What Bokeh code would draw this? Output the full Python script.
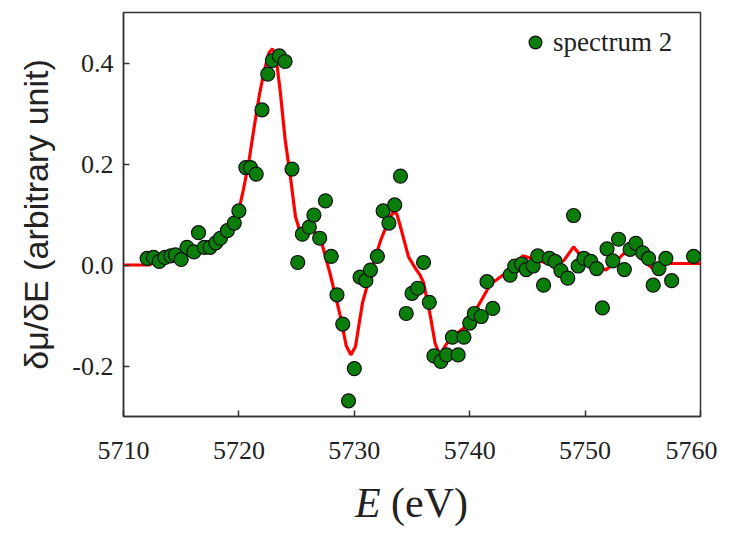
from bokeh.plotting import figure
from bokeh.layouts import column
from bokeh.models import Range1d, Legend, LegendItem, FixedTicker, PrintfTickFormatter, Div
from bokeh.embed import file_html
from bokeh.resources import INLINE

# measured spectrum (points)
energy_pts = [5712.05, 5712.6, 5713.1, 5713.6, 5714.1, 5714.5, 5715.0, 5715.5, 5716.1, 5716.5,
              5717.0, 5717.5, 5718.0, 5718.4, 5719.0, 5719.6, 5720.0, 5720.6, 5721.0, 5721.5,
              5722.0, 5722.5, 5722.9, 5723.5, 5724.0, 5724.6, 5725.1, 5725.5, 5726.1, 5726.5,
              5727.0, 5727.5, 5728.0, 5728.5, 5729.0, 5729.5, 5730.0, 5730.5, 5731.0, 5731.4,
              5732.0, 5732.5, 5733.0, 5733.5, 5734.0, 5734.5, 5735.0, 5735.5, 5736.0, 5736.5,
              5736.9, 5737.5, 5738.0, 5738.5, 5739.0, 5739.5, 5740.0, 5740.4, 5741.0, 5741.5,
              5742.0, 5743.5, 5743.9, 5744.5, 5744.9, 5745.5, 5745.9, 5746.4, 5746.9, 5747.4,
              5747.9, 5748.5, 5749.0, 5749.4, 5749.9, 5750.5, 5751.0, 5751.5, 5751.9, 5752.4,
              5752.9, 5753.4, 5753.9, 5754.4, 5755.0, 5755.5, 5755.9, 5756.4, 5757.0, 5757.5,
              5759.4]
dmu_pts = [0.013, 0.015, 0.007, 0.015, 0.018, 0.020, 0.011, 0.035, 0.026, 0.064,
           0.035, 0.035, 0.044, 0.053, 0.068, 0.083, 0.107, 0.193, 0.193, 0.180,
           0.307, 0.378, 0.405, 0.414, 0.403, 0.190, 0.005, 0.061, 0.075, 0.099,
           0.053, 0.127, 0.017, -0.059, -0.117, -0.269, -0.205, -0.024, -0.031, -0.010,
           0.017, 0.107, 0.083, 0.119, 0.176, -0.096, -0.056, -0.046, 0.005, -0.074,
           -0.180, -0.191, -0.178, -0.143, -0.178, -0.143, -0.115, -0.096, -0.102, -0.033,
           -0.086, -0.020, -0.002, 0.002, -0.009, -0.002, 0.018, -0.040, 0.013, 0.007,
           -0.011, -0.026, 0.098, -0.002, 0.013, 0.007, -0.007, -0.085, 0.032, 0.008,
           0.051, -0.009, 0.031, 0.043, 0.024, 0.013, -0.040, -0.007, 0.013, -0.031,
           0.017]

# fitted curve (red line)
energy_fit = [5710.0, 5712.3, 5712.6, 5713.0, 5714.0, 5715.0, 5716.1, 5717.2, 5718.4, 5719.2,
              5719.8, 5720.4, 5720.9, 5721.3, 5721.8, 5722.2, 5722.6, 5722.9, 5723.2, 5723.6,
              5724.0, 5724.5, 5724.9, 5725.3, 5725.6, 5726.2, 5726.6, 5727.1, 5727.9, 5728.8,
              5729.3, 5729.7, 5730.1, 5730.7, 5731.4, 5732.3, 5733.0, 5733.4, 5733.7, 5734.0,
              5734.7, 5735.3, 5735.7, 5736.0, 5736.6, 5737.0, 5737.4, 5738.3, 5739.5, 5740.6,
              5741.8, 5743.3, 5744.6, 5746.0, 5747.4, 5748.2, 5749.0, 5749.9, 5750.8, 5751.8,
              5752.8, 5753.9, 5755.1, 5756.1, 5757.1, 5760.0]
dmu_fit = [0.0, 0.0, 0.012, 0.008, 0.012, 0.016, 0.025, 0.034, 0.050, 0.065,
           0.090, 0.150, 0.210, 0.270, 0.340, 0.385, 0.420, 0.428, 0.415, 0.340,
           0.250, 0.168, 0.096, 0.066, 0.062, 0.073, 0.065, 0.050, -0.017, -0.102,
           -0.160, -0.178, -0.162, -0.076, -0.017, 0.050, 0.089, 0.106, 0.100, 0.076,
           0.016, -0.007, -0.020, -0.035, -0.102, -0.155, -0.178, -0.145, -0.125, -0.086,
           -0.038, -0.013, 0.018, 0.009, -0.003, 0.010, 0.036, 0.010, 0.000, -0.010,
           0.010, 0.035, 0.007, -0.011, 0.003, 0.003]

x_ticks = [5710, 5720, 5730, 5740, 5750, 5760]
y_ticks = [-0.2, 0.0, 0.2, 0.4]
series_label = "spectrum 2"

p = figure(width=717, height=476, output_backend="svg", toolbar_location=None,
           x_range=Range1d(5710, 5760), y_range=Range1d(-0.3, 0.5),
           min_border_left=123, min_border_right=17, min_border_top=12, min_border_bottom=60)
p.xgrid.visible = False
p.ygrid.visible = False
p.outline_line_color = "#333333"
p.outline_line_width = 1.5
p.background_fill_color = "white"

for ax in (p.xaxis[0], p.yaxis[0]):
    ax.axis_line_color = "#333333"
    ax.axis_line_width = 1.5
    ax.major_tick_in = 6
    ax.major_tick_out = 0
    ax.major_tick_line_color = "#333333"
    ax.major_tick_line_width = 1.5
    ax.minor_tick_line_color = None
    ax.major_label_text_font = "Liberation Serif"
    ax.major_label_text_font_size = "26px"
    ax.major_label_text_color = "#222222"

p.xaxis[0].ticker = FixedTicker(ticks=x_ticks)
p.yaxis[0].ticker = FixedTicker(ticks=y_ticks)
p.yaxis[0].formatter = PrintfTickFormatter(format="%.1f")
p.xaxis[0].major_label_standoff = 25
p.yaxis[0].major_label_standoff = 10

p.yaxis[0].axis_label = "δμ/δE (arbitrary unit)"
p.yaxis[0].axis_label_text_font = "Liberation Sans"
p.yaxis[0].axis_label_text_font_style = "normal"
p.yaxis[0].axis_label_text_font_size = "34px"
p.yaxis[0].axis_label_text_color = "#222222"
p.yaxis[0].axis_label_standoff = 14

line = p.line(energy_fit, dmu_fit, line_color="#ff0000", line_width=3.2)
sc = p.scatter(energy_pts, dmu_pts, size=14, fill_color="#0b7d0b", line_color="#111111", line_width=1.2)

legend = Legend(items=[LegendItem(label=series_label, renderers=[sc])],
                location=(396, 358), glyph_width=32, glyph_height=32, label_standoff=2,
                padding=5, margin=0, border_line_color=None, background_fill_alpha=0,
                label_text_font="Liberation Serif", label_text_font_size="27px",
                label_text_color="#222222")
p.add_layout(legend)

# x-axis title with italic E, as real HTML text below the figure
xtitle = Div(text='<div style="width:577px; text-align:center; font-family:\'Liberation Serif\'; '
                  'font-size:42px; line-height:54px; color:#222222; white-space:nowrap;">'
                  '<i>E</i> (eV)</div>',
             width=577, height=50, margin=(0, 0, 0, 123))

layout = column(p, xtitle, spacing=0)

open("out.html", "w").write(file_html(layout, INLINE))
